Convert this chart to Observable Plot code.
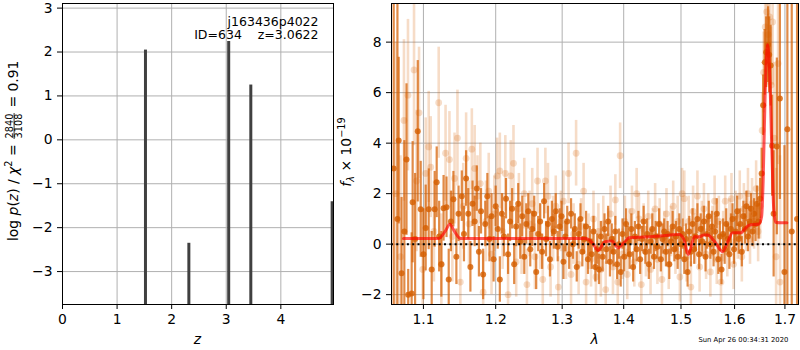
<!DOCTYPE html>
<html><head><meta charset="utf-8">
<script src="https://cdn.jsdelivr.net/npm/d3@7"></script>
<script src="https://cdn.jsdelivr.net/npm/@observablehq/plot@0.6"></script>
<style>
html,body{margin:0;padding:0;background:#fff;}
#wrap{position:relative;width:800px;height:350px;overflow:hidden;font-family:"DejaVu Sans";}
#wrap svg{position:absolute;top:0;}
</style></head><body><div id="wrap"></div>
<script>
// ---------- left panel: log p(z) ----------
const zTicks = [0, 1, 2, 3, 4];
const lpTicks = [-3, -2, -1, 0, 1, 2, 3];
const pzZ = [1.52, 2.315, 3.045, 3.45, 4.94];
const pzLogp = [2.044, -2.356, 2.24, 1.248, -1.41];
const zDomain = [0, 4.965];
const lpDomain = [-3.75, 3.105];

// ---------- right panel: spectrum ----------
const lamTicks = [1.1, 1.2, 1.3, 1.4, 1.5, 1.6, 1.7];
const fTicks = [-2, 0, 2, 4, 6, 8];
const lamDomain = [1.0585, 1.728];
const fDomain = [-2.39, 9.53];

// binned points [lambda (um), flux, error]
const binned = [
[1.0613,3.0,15],[1.0661,1.0,15],[1.0677,4.1,3.3],[1.0714,-1.15,3.0],[1.0750,0.5,3.6],[1.0778,3.35,3.0],[1.0800,-2.0,1.0],
[1.0845,-1.95,2.4],[1.0858,1.66,2.4],[1.0890,0.2,2.6],[1.0925,4.47,2.8],[1.0964,1.38,1.9],[1.1000,-0.4,1.8],[1.1030,0.64,1.7],
[1.1070,1.38,1.6],[1.1110,-1.0,1.5],[1.1150,1.38,1.5],[1.1177,2.45,1.4],[1.1210,0.3,1.4],[1.1240,-0.8,1.3],[1.1270,1.42,1.3],
[1.1310,1.46,1.2],[1.1340,-1.4,1.2],[1.1370,0.9,1.2],[1.1404,1.78,1.1],[1.1445,-0.5,1.1],[1.1475,1.2,1.1],
[1.152,1.9,1.0],[1.155,0.4,1.1],[1.158,2.6,1.1],[1.161,1.2,1.0],[1.164,-0.9,1.0],[1.167,1.6,0.9],[1.170,0.9,1.0],[1.173,2.2,0.9],
[1.176,-0.3,1.0],[1.179,1.3,0.9],[1.182,-1.2,1.0],[1.185,0.8,0.9],[1.188,1.9,0.9],[1.191,0.2,0.9],[1.194,1.1,0.9],[1.197,-0.6,0.9],
[1.200,1.5,0.8],[1.203,0.6,0.8],[1.206,-1.4,0.9],[1.209,1.2,0.8],[1.212,0.3,0.8],[1.215,1.8,0.8],[1.218,-0.4,0.8],[1.221,0.9,0.8],
[1.224,1.4,0.8],[1.227,-0.8,0.8],[1.230,0.7,0.8],[1.233,1.6,0.8],[1.236,0.1,0.7],[1.239,1.1,0.8],[1.242,-0.5,0.7],[1.245,0.8,0.8],
[1.248,1.3,0.7],[1.251,-0.2,0.7],[1.254,0.6,0.7],[1.257,1.2,0.7],[1.260,-1.1,0.7],[1.263,0.4,0.7],[1.266,0.9,0.7],[1.269,-0.3,0.7],
[1.272,1.7,0.7],[1.275,0.2,0.7],[1.278,0.8,0.7],[1.281,-0.6,0.7],[1.284,1.0,0.7],[1.287,0.5,0.7],[1.290,1.3,0.7],[1.293,-0.1,0.6],
[1.296,0.7,0.7],[1.299,1.1,0.6],[1.302,-0.7,0.7],[1.305,0.3,0.6],[1.308,0.9,0.6],[1.311,-0.4,0.6],[1.314,1.2,0.6],[1.317,0.0,0.6],
[1.320,0.6,0.6],[1.323,-0.9,0.6],[1.326,0.4,0.6],[1.329,1.0,0.6],[1.332,-0.3,0.6],[1.335,0.2,0.6],[1.338,0.7,0.6],[1.341,-0.6,0.6],
[1.344,0.1,0.6],[1.347,-0.4,0.6],[1.350,0.5,0.6],[1.353,-0.9,0.6],[1.356,-0.2,0.6],[1.359,-1.0,0.6],[1.362,0.3,0.6],[1.365,-0.5,0.6],
[1.368,0.6,0.6],[1.371,-0.2,0.6],[1.374,0.9,0.6],[1.377,-0.7,0.6],[1.380,0.2,0.6],[1.383,-0.3,0.6],[1.386,0.5,0.6],[1.389,-0.8,0.6],
[1.392,0.0,0.6],[1.395,-1.1,0.6],[1.398,0.4,0.6],[1.401,-0.5,0.6],[1.404,0.8,0.6],[1.407,0.1,0.6],[1.410,-0.4,0.6],[1.413,0.6,0.6],
[1.416,-0.9,0.6],[1.419,0.3,0.6],[1.422,-0.2,0.5],[1.425,0.7,0.6],[1.428,-0.6,0.6],[1.431,0.2,0.5],[1.434,0.9,0.6],[1.437,-0.3,0.5],
[1.440,0.4,0.6],[1.443,-0.8,0.6],[1.446,0.1,0.5],[1.449,0.6,0.6],[1.452,-0.5,0.5],[1.455,0.3,0.6],[1.458,-0.1,0.5],[1.461,0.8,0.6],
[1.464,-0.6,0.5],[1.467,0.2,0.6],[1.470,0.5,0.5],[1.473,-0.3,0.6],[1.476,0.4,0.5],[1.479,-0.8,0.6],[1.482,0.1,0.5],[1.485,0.7,0.6],
[1.488,-0.2,0.5],[1.491,0.3,0.6],[1.494,-0.5,0.5],[1.497,0.6,0.6],[1.500,0.0,0.6],[1.503,0.4,0.6],[1.506,-0.6,0.6],[1.509,0.2,0.6],
[1.512,-1.1,0.6],[1.515,0.5,0.6],[1.518,-0.3,0.6],[1.521,0.8,0.6],[1.524,-0.2,0.6],[1.527,0.3,0.6],[1.530,1.0,0.6],[1.533,-0.4,0.6],
[1.536,0.6,0.6],[1.539,0.1,0.6],[1.542,0.9,0.6],[1.545,-0.5,0.6],[1.548,0.4,0.6],[1.551,1.1,0.6],[1.554,0.0,0.6],[1.557,0.7,0.6],
[1.560,-0.3,0.6],[1.563,0.5,0.6],[1.566,1.2,0.6],[1.569,-0.6,0.6],[1.572,0.3,0.6],[1.575,-1.0,0.6],[1.578,0.4,0.6],[1.581,-0.2,0.6],
[1.584,0.8,0.6],[1.587,0.2,0.6],[1.590,-0.4,0.6],[1.593,0.6,0.6],[1.596,1.0,0.6],[1.599,-0.2,0.6],[1.602,0.5,0.6],[1.605,1.3,0.6],
[1.608,0.2,0.6],[1.611,0.8,0.6],[1.614,-0.3,0.6],[1.617,1.1,0.6],[1.620,0.6,0.6],[1.623,1.5,0.6],[1.626,0.3,0.6],[1.629,0.9,0.6],
[1.632,1.4,0.6],[1.635,0.5,0.6],[1.638,1.2,0.6],[1.641,0.8,0.7],[1.644,1.6,0.7],[1.647,0.9,0.7],[1.650,1.8,0.8],[1.653,2.8,1.0],
[1.656,5.5,1.2],[1.659,7.2,1.3],[1.662,7.6,1.4],[1.6658,7.9,1.5],[1.668,7.5,1.5],[1.671,7.07,1.6],[1.674,3.9,2.0],[1.677,1.2,2.5],
[1.6835,3.87,3.5],[1.6897,5.77,4.0],[1.6990,-1.1,5.0],[1.7050,4.55,15],[1.7140,0.5,15],[1.7250,1.0,15]
];

// unbinned points [lambda (um), flux, error]
const unbinned = [
[1.0640,2.0,6],[1.0700,-0.5,4],[1.0745,4.9,3.2],[1.0797,5.9,3.0],[1.0876,6.9,3.0],[1.0910,2.5,2.8],[1.0942,5.2,2.6],[1.0990,-1.0,2.4],
[1.1030,2.8,2.2],[1.1070,3.85,2.2],[1.1097,3.05,2.0],[1.1140,0.5,2.0],[1.1204,5.6,2.2],[1.1240,-0.8,2.0],[1.1297,3.6,1.9],[1.1350,3.35,1.9],
[1.1390,0.3,1.8],[1.1420,2.6,1.8],[1.1460,4.2,1.9],[1.1500,-1.5,1.8],
[1.154,1.5,1.7],[1.158,3.4,1.8],[1.162,0.8,1.7],[1.166,3.76,1.6],[1.170,3.0,1.7],[1.174,1.9,1.6],[1.178,2.4,1.6],[1.182,-1.9,1.6],
[1.186,0.9,1.6],[1.190,2.1,1.5],[1.194,-0.4,1.6],[1.198,1.2,1.5],[1.202,2.7,1.5],[1.206,2.9,1.5],[1.210,0.5,1.5],[1.214,2.8,1.5],
[1.218,-2.0,1.5],[1.222,2.7,1.4],[1.226,3.2,1.5],[1.230,-0.7,1.4],[1.234,1.4,1.4],[1.238,0.2,1.4],[1.242,2.0,1.4],[1.246,-1.6,1.4],
[1.250,0.8,1.3],[1.254,1.6,1.4],[1.258,-0.5,1.3],[1.262,2.5,1.3],[1.266,0.3,1.3],[1.270,-1.4,1.3],[1.274,2.5,1.3],[1.278,1.9,1.3],
[1.282,-0.9,1.2],[1.286,0.6,1.3],[1.290,1.5,1.2],[1.294,-1.7,1.2],[1.298,0.9,1.2],[1.302,1.7,1.2],[1.306,-0.2,1.2],[1.310,2.8,1.2],
[1.314,-1.2,1.2],[1.318,0.4,1.2],[1.322,3.6,1.3],[1.326,-0.8,1.2],[1.330,0.7,1.1],[1.334,2.1,1.1],[1.338,-1.5,1.1],[1.342,0.1,1.1],
[1.346,-0.6,1.1],[1.350,1.0,1.1],[1.354,-1.3,1.1],[1.358,0.5,1.1],[1.362,-1.0,1.1],[1.366,0.8,1.1],[1.370,-1.8,1.1],[1.374,0.3,1.1],
[1.378,1.2,1.1],[1.382,-0.9,1.1],[1.386,1.75,1.0],[1.390,-1.5,1.1],[1.394,3.5,1.3],[1.398,-0.4,1.0],[1.402,0.9,1.0],[1.406,-1.2,1.0],
[1.410,0.4,1.0],[1.414,1.3,1.0],[1.418,-0.7,1.0],[1.422,2.0,1.0],[1.426,1.0,1.0],[1.430,-1.6,1.0],[1.434,0.6,1.0],[1.438,-0.3,1.0],
[1.442,1.1,1.0],[1.446,-1.0,1.0],[1.450,0.4,1.0],[1.454,1.4,1.0],[1.458,-0.6,1.0],[1.462,0.8,1.0],[1.466,-1.4,1.0],[1.470,0.3,1.0],
[1.474,1.2,1.0],[1.478,-0.8,1.0],[1.482,0.5,1.0],[1.486,1.5,1.0],[1.490,-0.2,1.0],[1.494,0.9,1.0],[1.498,-1.3,1.0],[1.502,2.0,1.0],
[1.506,1.8,1.1],[1.510,-0.5,1.0],[1.514,0.9,1.0],[1.518,-1.7,1.0],[1.522,1.3,1.0],[1.526,0.2,1.0],[1.530,1.9,1.0],[1.534,-0.9,1.0],
[1.538,0.7,1.0],[1.542,1.4,1.0],[1.546,-0.4,1.0],[1.550,1.0,1.0],[1.554,-1.1,1.0],[1.558,0.5,1.0],[1.562,1.7,1.0],[1.566,-0.6,1.0],
[1.570,0.9,1.0],[1.574,-1.5,1.0],[1.578,0.3,1.0],[1.582,1.7,1.0],[1.586,-0.3,1.0],[1.590,0.8,1.0],[1.594,1.8,1.0],[1.598,-0.8,1.0],
[1.602,1.1,1.0],[1.606,0.4,1.0],[1.610,1.9,1.0],[1.614,-0.5,1.0],[1.618,1.4,1.0],[1.622,0.7,1.0],[1.626,2.0,1.0],[1.630,0.2,1.0],
[1.634,1.6,1.0],[1.638,0.9,1.1],[1.642,2.2,1.1],[1.646,0.5,1.2],[1.650,1.5,1.3],[1.654,4.5,1.5],[1.657,6.8,1.6],[1.660,8.6,1.8],
[1.663,9.2,2.0],[1.666,8.3,2.0],[1.669,9.0,2.2],[1.672,6.3,2.3],[1.675,8.8,2.5],[1.678,4.2,3.0],[1.682,-0.5,3.5],[1.686,7.15,4],[1.690,-1.5,5]
];

// best-fit model
const modelLam = [1.0738,1.1204,1.1300,1.1355,1.1420,1.1502,1.2000,1.2500,1.3000,1.3376,1.3480,1.3576,1.3690,1.3800,1.3907,1.4000,1.4090,1.4500,1.4967,1.5050,1.5130,1.5250,1.5315,1.5420,1.5490,1.5620,1.5770,1.5870,1.5962,1.6120,1.6200,1.6280,1.6480,1.6530,1.6560,1.6600,1.6650,1.6686,1.6735,1.6770,1.6810,1.6900,1.7040];
const modelFlux = [0.22,0.22,0.55,0.79,0.5,0.22,0.22,0.22,0.22,0.22,0.05,-0.24,0.1,0.12,-0.15,0.05,0.25,0.3,0.38,0.2,-0.41,0.3,0.28,0.36,0.36,0.1,-0.3,0.1,0.45,0.45,0.6,0.75,0.8,1.1,2.5,6.0,7.9,7.0,3.7,1.47,0.87,0.85,0.85];

const annotation1 = "j163436p4022";
const annotation2 = "ID=634    z=3.0622";
const stamp = "Sun Apr 26 00:34:31 2020";

// ---------- drawing ----------
const FS = 13.9;
const GRID = "#b0b0b0";
const ORANGE = "#d55e00";
const baseStyle = {fontFamily: "DejaVu Sans", fontSize: FS + "px", background: "transparent", overflow: "visible", color: "black"};
const wrap = document.getElementById("wrap");

const pz = pzZ.map((z, i) => ({z, lp: pzLogp[i]}));
const leftPlot = Plot.plot({
  width: 340, height: 350, marginLeft: 62, marginRight: 7, marginTop: 3, marginBottom: 46,
  style: baseStyle,
  x: {domain: zDomain, ticks: zTicks, tickFormat: d3.format("d"), tickSize: 5, tickPadding: 5, label: null},
  y: {domain: lpDomain, ticks: lpTicks, tickFormat: d3.format("d"), tickSize: 5, tickPadding: 5, label: null},
  marks: [
    Plot.ruleX(zTicks, {stroke: GRID, strokeWidth: 1}),
    Plot.ruleY(lpTicks, {stroke: GRID, strokeWidth: 1}),
    Plot.ruleX(pz, {x: "z", y1: () => lpDomain[0], y2: "lp", stroke: "#404040", strokeWidth: 3, clip: true}),
    Plot.frame({stroke: "black", strokeWidth: 1})
  ]
});
leftPlot.style.left = "0px";
wrap.appendChild(leftPlot);

const model = modelLam.map((l, i) => ({l, f: modelFlux[i]}));
const rightPlot = Plot.plot({
  width: 462, height: 350, marginLeft: 53, marginRight: 2, marginTop: 3, marginBottom: 46,
  style: baseStyle,
  x: {type: "log", domain: lamDomain, ticks: lamTicks, tickFormat: d3.format(".1f"), tickSize: 5, tickPadding: 5, label: null},
  y: {domain: fDomain, ticks: fTicks, tickFormat: d3.format("d"), tickSize: 5, tickPadding: 5, label: null},
  marks: [
    Plot.ruleX(lamTicks, {stroke: GRID, strokeWidth: 1}),
    Plot.ruleY(fTicks, {stroke: GRID, strokeWidth: 1}),
    Plot.ruleX(unbinned, {x: d => d[0], y1: d => d[1] - d[2], y2: d => d[1] + d[2], stroke: ORANGE, strokeOpacity: 0.22, strokeWidth: 2.6, clip: true}),
    Plot.dot(unbinned, {x: d => d[0], y: d => d[1], r: 3.4, fill: ORANGE, fillOpacity: 0.22, stroke: "none", clip: true}),
    Plot.ruleX(binned, {x: d => d[0], y1: d => d[1] - d[2], y2: d => d[1] + d[2], stroke: ORANGE, strokeOpacity: 0.72, strokeWidth: 2.2, clip: true}),
    Plot.dot(binned, {x: d => d[0], y: d => d[1], r: 3, fill: ORANGE, fillOpacity: 0.8, stroke: "none", clip: true}),
    Plot.line(model, {x: "l", y: "f", stroke: "red", strokeOpacity: 0.65, strokeWidth: 3, curve: "monotone-x", clip: true}),
    Plot.ruleY([0], {stroke: "black", strokeWidth: 2, strokeDasharray: "2,3.3"}),
    Plot.frame({stroke: "black", strokeWidth: 1})
  ]
});
rightPlot.style.left = "338px";
wrap.appendChild(rightPlot);

// ---------- text helpers ----------
function addText(sel, x, y, str, o = {}) {
  const t = sel.append("text").attr("x", x).attr("y", y)
    .attr("font-family", "DejaVu Sans").attr("font-size", o.size || FS)
    .attr("text-anchor", o.anchor || "start").attr("fill", "black")
    .attr("xml:space", "preserve").style("white-space", "pre").text(str);
  if (o.italic) t.attr("font-style", "italic");
  return t;
}
// a text made of tspans: parts = [{t, it, scale, shift}] ; shift is baseline raise in px (positive = up)
function spanText(sel, x, y, anchor, parts) {
  const t = sel.append("text").attr("x", x).attr("y", y)
    .attr("font-family", "DejaVu Sans").attr("font-size", FS)
    .attr("text-anchor", anchor).attr("fill", "black")
    .attr("xml:space", "preserve").style("white-space", "pre");
  let cur = 0;
  for (const p of parts) {
    const target = -(p.shift || 0);
    const s = t.append("tspan").attr("dy", target - cur)
      .attr("font-size", FS * (p.scale || 1)).text(p.t);
    if (p.it) s.attr("font-style", "italic");
    cur = target;
  }
  return t;
}

const L = d3.select(leftPlot);
const R = d3.select(rightPlot);

// left panel texts
addText(L, 318.5, 25.5, annotation1, {size: 12.5, anchor: "end"});
addText(L, 318.5, 39, annotation2, {size: 12.5, anchor: "end"});
addText(L, 197.5, 343.5, "z", {anchor: "middle", italic: true});

// left y label (rotated), fraction drawn between two texts
{
  const g = L.append("g").attr("transform", "translate(17.5,153) rotate(-90)");
  const fc = 27, fw = 26;
  spanText(g, fc - fw / 2 - 1, 0, "end", [
    {t: "log "}, {t: "p", it: true}, {t: "("}, {t: "z", it: true}, {t: ") / "},
    {t: "χ", it: true}, {t: "2", scale: 0.7, shift: 6}, {t: " = ", shift: 0}
  ]);
  addText(g, fc, -4.6, "2840", {size: FS * 0.7, anchor: "middle"});
  addText(g, fc, 4.8, "3108", {size: FS * 0.7, anchor: "middle"});
  g.append("line").attr("x1", fc - fw / 2).attr("x2", fc + fw / 2)
    .attr("y1", -3.4).attr("y2", -3.4).attr("stroke", "black").attr("stroke-width", 0.8);
  addText(g, fc + fw / 2 + 1, 0, " = 0.91", {});
}

// right panel texts (svg starts at x = 338)
addText(R, 594.5 - 338, 344, "λ", {anchor: "middle", italic: true});
addText(R, 788.3 - 338, 342, stamp, {size: 6.8, anchor: "end"});
{
  const g = R.append("g").attr("transform", `translate(${351 - 338},152) rotate(-90)`);
  spanText(g, 0, 0, "middle", [
    {t: "f", it: true}, {t: "λ", it: true, scale: 0.7, shift: -3}, {t: " × 10", shift: 0},
    {t: "−19", scale: 0.7, shift: 6}
  ]);
}
</script></body></html>
